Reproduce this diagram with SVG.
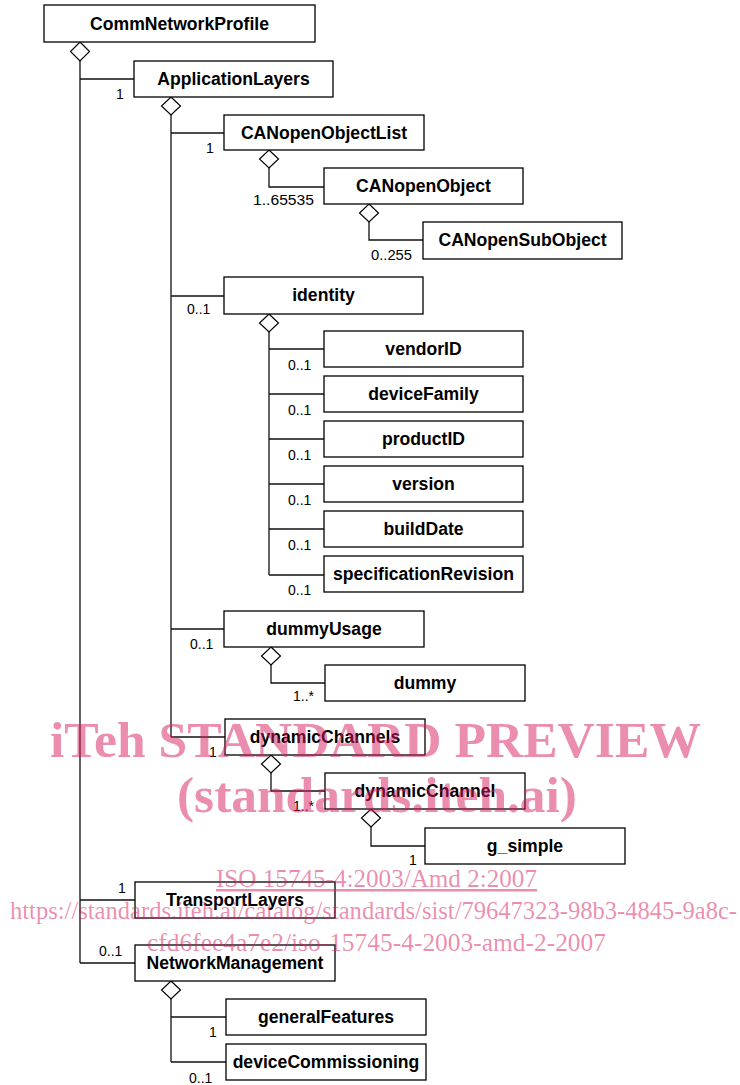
<svg xmlns="http://www.w3.org/2000/svg" width="740" height="1085" viewBox="0 0 740 1085">
<style>
.box{fill:#fff;stroke:#000;stroke-width:1.3}
.nt{font-family:"Liberation Sans",Arial,sans-serif;font-weight:bold;font-size:17.6px;text-anchor:middle;fill:#000}
.ml{font-family:"Liberation Sans",Arial,sans-serif;font-size:14px;fill:#000}
.ln{fill:none;stroke:#111;stroke-width:1.3}
.dia{fill:#fff;stroke:#000;stroke-width:1.2}
.wm{font-family:"Liberation Serif","Times New Roman",serif;fill:#d81b60;fill-opacity:0.5}
</style>
<rect width="740" height="1085" fill="#fff"/>
<g id="connectors">
  <path class="ln" d="M80,61 V963 M80,79 H134 M80,900 H135 M80,963 H135"/>
  <path class="ln" d="M171,115 V737 M171,133 H224 M171,296 H224 M171,629 H224 M171,737 H225"/>
  <path class="ln" d="M269,168 V187 H324"/>
  <path class="ln" d="M369,222 V240 H423"/>
  <path class="ln" d="M269,332 V575 M269,349 H324 M269,394 H324 M269,439 H324 M269,484 H324 M269,529 H324 M269,575 H324"/>
  <path class="ln" d="M271,665 V683 H325"/>
  <path class="ln" d="M271,773 V791 H325"/>
  <path class="ln" d="M371,827 V846 H425"/>
  <path class="ln" d="M171,999 V1062 M171,1017 H226 M171,1062 H226"/>
  <polygon class="dia" points="80,42 89.5,51.5 80,61 70.5,51.5"/>
  <polygon class="dia" points="171,97 180.5,106 171,115 161.5,106"/>
  <polygon class="dia" points="269,150 278.5,159 269,168 259.5,159"/>
  <polygon class="dia" points="369,204 378.5,213 369,222 359.5,213"/>
  <polygon class="dia" points="269,314 278.5,323 269,332 259.5,323"/>
  <polygon class="dia" points="271,647 280.5,656 271,665 261.5,656"/>
  <polygon class="dia" points="271,755 280.5,764 271,773 261.5,764"/>
  <polygon class="dia" points="371,809 380.5,818 371,827 361.5,818"/>
  <polygon class="dia" points="171,981 180.5,990 171,999 161.5,990"/>
  <text class="ml" x="116" y="99">1</text>
  <text class="ml" x="206" y="153">1</text>
  <text class="ml" x="253" y="205" textLength="61" lengthAdjust="spacingAndGlyphs">1..65535</text>
  <text class="ml" x="371" y="260" textLength="41" lengthAdjust="spacingAndGlyphs">0..255</text>
  <text class="ml" x="187" y="314">0..1</text>
  <text class="ml" x="288" y="370">0..1</text>
  <text class="ml" x="288" y="415">0..1</text>
  <text class="ml" x="288" y="460">0..1</text>
  <text class="ml" x="288" y="505">0..1</text>
  <text class="ml" x="288" y="550">0..1</text>
  <text class="ml" x="288" y="595">0..1</text>
  <text class="ml" x="190" y="649">0..1</text>
  <text class="ml" x="293" y="701">1..*</text>
  <text class="ml" x="209" y="757">1</text>
  <text class="ml" x="293" y="811">1..*</text>
  <text class="ml" x="409" y="865">1</text>
  <text class="ml" x="118" y="893">1</text>
  <text class="ml" x="99" y="956">0..1</text>
  <text class="ml" x="209" y="1037">1</text>
  <text class="ml" x="189" y="1083">0..1</text>
</g>
<g id="CommNetworkProfile"><rect class="box" x="44" y="5" width="271" height="37"/><text class="nt" x="179.5" y="30">CommNetworkProfile</text></g>
<g id="ApplicationLayers"><rect class="box" x="134" y="61" width="199" height="36"/><text class="nt" x="233.5" y="85">ApplicationLayers</text></g>
<g id="CANopenObjectList"><rect class="box" x="224" y="115" width="200" height="35"/><text class="nt" x="324" y="139">CANopenObjectList</text></g>
<g id="CANopenObject"><rect class="box" x="324" y="168" width="199" height="36"/><text class="nt" x="423.5" y="192">CANopenObject</text></g>
<g id="CANopenSubObject"><rect class="box" x="423" y="222" width="199" height="37"/><text class="nt" x="522.5" y="246">CANopenSubObject</text></g>
<g id="identity"><rect class="box" x="224" y="277" width="199" height="37"/><text class="nt" x="323.5" y="301">identity</text></g>
<g id="vendorID"><rect class="box" x="324" y="331" width="199" height="36"/><text class="nt" x="423.5" y="355">vendorID</text></g>
<g id="deviceFamily"><rect class="box" x="324" y="376" width="199" height="36"/><text class="nt" x="423.5" y="400">deviceFamily</text></g>
<g id="productID"><rect class="box" x="324" y="421" width="199" height="36"/><text class="nt" x="423.5" y="445">productID</text></g>
<g id="version"><rect class="box" x="324" y="466" width="199" height="36"/><text class="nt" x="423.5" y="490">version</text></g>
<g id="buildDate"><rect class="box" x="324" y="511" width="199" height="36"/><text class="nt" x="423.5" y="535">buildDate</text></g>
<g id="specificationRevision"><rect class="box" x="324" y="556" width="199" height="36"/><text class="nt" x="423.5" y="580">specificationRevision</text></g>
<g id="dummyUsage"><rect class="box" x="224" y="611" width="200" height="36"/><text class="nt" x="324" y="635">dummyUsage</text></g>
<g id="dummy"><rect class="box" x="325" y="665" width="200" height="36"/><text class="nt" x="425" y="689">dummy</text></g>
<g id="dynamicChannels"><rect class="box" x="225" y="719" width="200" height="36"/><text class="nt" x="325" y="743">dynamicChannels</text></g>
<g id="dynamicChannel"><rect class="box" x="325" y="773" width="200" height="36"/><text class="nt" x="425" y="797">dynamicChannel</text></g>
<g id="g_simple"><rect class="box" x="425" y="828" width="200" height="36"/><text class="nt" x="525" y="852">g_simple</text></g>
<g id="TransportLayers"><rect class="box" x="135" y="882" width="200" height="36"/><text class="nt" x="235" y="906">TransportLayers</text></g>
<g id="NetworkManagement"><rect class="box" x="135" y="945" width="200" height="36"/><text class="nt" x="235" y="969">NetworkManagement</text></g>
<g id="generalFeatures"><rect class="box" x="226" y="999" width="200" height="36"/><text class="nt" x="326" y="1023">generalFeatures</text></g>
<g id="deviceCommissioning"><rect class="box" x="226" y="1044" width="200" height="36"/><text class="nt" x="326" y="1068">deviceCommissioning</text></g>
<g id="watermark">
  <text class="wm" x="50" y="757" font-size="51" font-weight="bold" textLength="651" lengthAdjust="spacingAndGlyphs">iTeh STANDARD PREVIEW</text>
  <text class="wm" x="177" y="812" font-size="51" font-weight="bold" textLength="400" lengthAdjust="spacingAndGlyphs">(standards.iteh.ai)</text>
  <text class="wm" x="216" y="887" font-size="25" text-decoration="underline" textLength="321" lengthAdjust="spacingAndGlyphs">ISO 15745-4:2003/Amd 2:2007</text>
  <text class="wm" x="10" y="919" font-size="25" textLength="727" lengthAdjust="spacingAndGlyphs">https://standards.iteh.ai/catalog/standards/sist/79647323-98b3-4845-9a8c-</text>
  <text class="wm" x="147" y="951" font-size="25" textLength="459" lengthAdjust="spacingAndGlyphs">cfd6fee4a7e2/iso-15745-4-2003-amd-2-2007</text>
</g>
</svg>
